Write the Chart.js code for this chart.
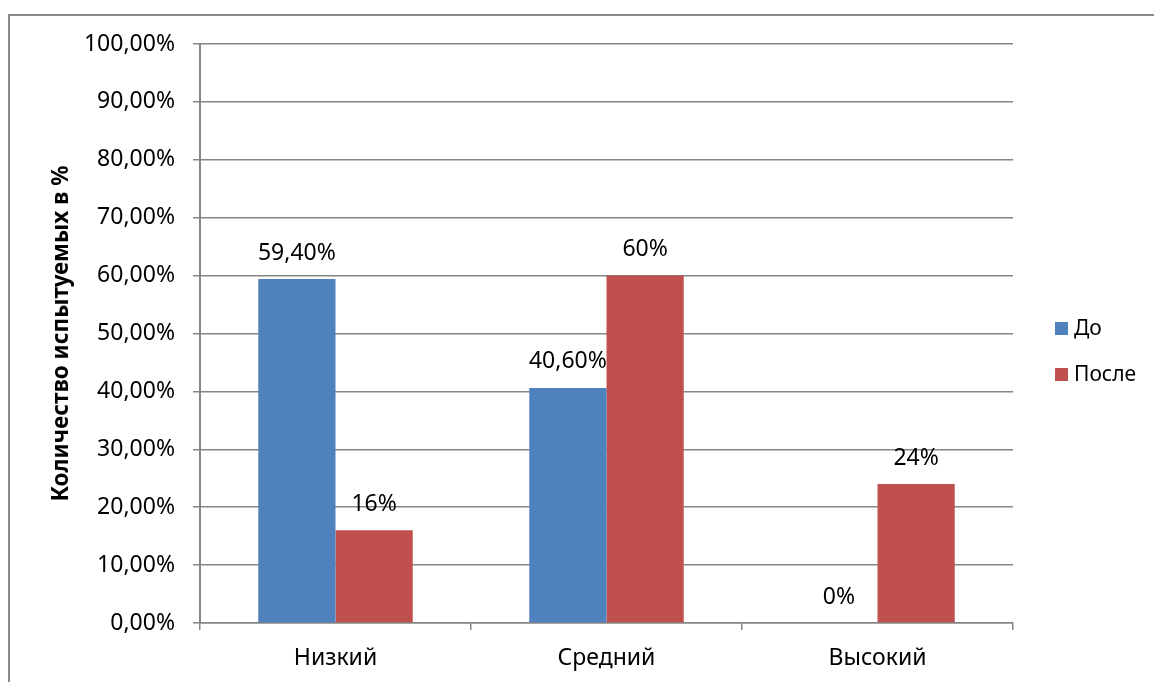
<!DOCTYPE html>
<html>
<head>
<meta charset="utf-8">
<script src="https://cdn.jsdelivr.net/npm/chart.js@4"></script>
<style>
  body { margin: 0; background: #fff; }
  #wrap { width: 1154px; height: 682px; }
</style>
</head>
<body>
<div id="wrap"><canvas id="myChart"></canvas></div>
<script>
var categories = ["Низкий", "Средний", "Высокий"];
var seriesNames = ["До", "После"];
var valuesDo = [59.4, 40.6, 0];
var valuesPosle = [16, 60, 24];
var labelsDo = ["59,40%", "40,60%", "0%"];
var labelsPosle = ["16%", "60%", "24%"];
var barColors = ["#4F81BD", "#C0504D"];
var gridColor = "#868686";
var fontName = "'Noto Sans', sans-serif";

// outer frame round the chart, like the Excel chart area
const framePlugin = {
  id: "frame",
  beforeDraw(chart) {
    const ctx = chart.ctx;
    ctx.save();
    ctx.strokeStyle = "#8a8a8a";
    ctx.lineWidth = 2;
    ctx.strokeRect(9, 15, 1300, 900);
    ctx.restore();
  }
};

// value labels above the bars + legend on the right
const labelPlugin = {
  id: "barLabels",
  afterDatasetsDraw(chart) {
    const ctx = chart.ctx;
    const allLabels = [labelsDo, labelsPosle];
    ctx.save();
    ctx.font = "23px " + fontName;
    ctx.fillStyle = "#000";
    ctx.textAlign = "center";
    ctx.textBaseline = "middle";
    chart.data.datasets.forEach((ds, i) => {
      chart.getDatasetMeta(i).data.forEach((bar, j) => {
        ctx.fillText(allLabels[i][j], bar.x, bar.y - 26);
      });
    });

    // legend
    const area = chart.chartArea;
    const lx = area.right + 42;
    const ys = [329, 375];
    ctx.font = "21px " + fontName;
    ctx.textAlign = "left";
    chart.data.datasets.forEach((ds, i) => {
      ctx.fillStyle = ds.backgroundColor;
      ctx.fillRect(lx, ys[i] - 7, 13, 13);
      ctx.fillStyle = "#000";
      ctx.fillText(ds.label, lx + 19, ys[i]);
    });
    ctx.restore();
  }
};

new Chart("myChart", {
  type: "bar",
  data: {
    labels: categories,
    datasets: [{
      label: seriesNames[0],
      data: valuesDo,
      backgroundColor: barColors[0]
    }, {
      label: seriesNames[1],
      data: valuesPosle,
      backgroundColor: barColors[1]
    }]
  },
  options: {
    responsive: true,
    maintainAspectRatio: false,
    animation: false,
    layout: { padding: { top: 44, right: 141, bottom: 0, left: 0 } },
    plugins: {
      legend: { display: false },
      tooltip: { enabled: false }
    },
    datasets: {
      bar: { categoryPercentage: 0.57, barPercentage: 1 }
    },
    scales: {
      x: {
        afterFit: s => { s.height = 59; },
        grid: {
          display: true,
          drawOnChartArea: false,
          tickLength: 7,
          color: gridColor,
          lineWidth: 1.5
        },
        border: { display: true, color: gridColor, width: 1.5 },
        ticks: {
          color: "#000",
          padding: 15,
          font: { family: fontName, size: 23 }
        }
      },
      y: {
        min: 0,
        max: 100,
        afterFit: s => { s.width = 200; },
        grid: {
          color: gridColor,
          lineWidth: 1.5,
          tickLength: 7
        },
        border: { display: true, color: gridColor, width: 2 },
        ticks: {
          stepSize: 10,
          color: "#000",
          padding: 18,
          font: { family: fontName, size: 23 },
          callback: v => v.toFixed(2).replace(".", ",") + "%"
        },
        title: {
          display: true,
          text: "Количество испытуемых в %",
          color: "#000",
          padding: { top: 48, bottom: 0 },
          font: { family: fontName, size: 22.5, weight: "bold" }
        }
      }
    }
  },
  plugins: [framePlugin, labelPlugin]
});
</script>
</body>
</html>
